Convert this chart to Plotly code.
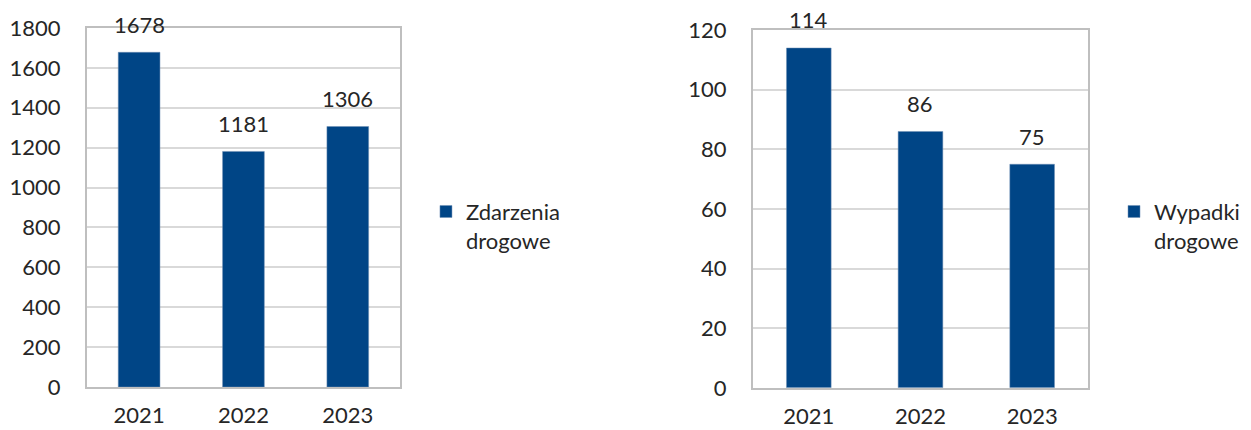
import plotly.graph_objects as go

years = ["2021", "2022", "2023"]
zdarzenia = [1678, 1181, 1306]
wypadki = [114, 86, 75]

bar_color = "#004586"
grid_color = "#D9D9D9"
frame_color = "#BFBFBF"
txt_color = "#262626"
font_family = "Lato, 'Noto Sans', sans-serif"

fig = go.Figure()

fig.add_trace(go.Bar(x=years, y=zdarzenia, name="Zdarzenia<br>drogowe",
                     marker_color=bar_color, marker_line_color="#6F8FB5", marker_line_width=0.5,
                     xaxis="x", yaxis="y", legend="legend", showlegend=True))
fig.add_trace(go.Bar(x=years, y=wypadki, name="Wypadki<br>drogowe",
                     marker_color=bar_color, marker_line_color="#6F8FB5", marker_line_width=0.5,
                     xaxis="x2", yaxis="y2", legend="legend2", showlegend=True))

# value labels above bars (category index, since "2021" would be read as a number)
for ys, xr, yr in [(zdarzenia, "x", "y"), (wypadki, "x2", "y2")]:
    for i, y in enumerate(ys):
        fig.add_annotation(x=i, y=y, xref=xr, yref=yr, text=str(y), showarrow=False,
                           yanchor="middle", yshift=28,
                           font=dict(size=22, color=txt_color, family=font_family))

axis_common = dict(showline=True, linecolor=frame_color, linewidth=2, mirror=True, automargin=False,
                   tickfont=dict(size=22, color=txt_color, family=font_family))

fig.update_layout(
    width=1251, height=430,
    margin=dict(l=0, r=0, t=0, b=0),
    paper_bgcolor="white", plot_bgcolor="white",
    bargap=0.6, showlegend=True,
    font=dict(family=font_family, color=txt_color),
    xaxis=dict(domain=[0.0695, 0.3197], anchor="y", type="category", range=[-0.5, 2.5],
               ticks="outside", ticklen=8, tickcolor="rgba(0,0,0,0)", **axis_common),
    yaxis=dict(domain=[0.100, 0.935], anchor="x", range=[0, 1800], dtick=200,
               showgrid=True, gridcolor=grid_color, gridwidth=1.5, zeroline=False,
               ticks="outside", ticklen=20, tickcolor="rgba(0,0,0,0)", **axis_common),
    xaxis2=dict(domain=[0.6019, 0.8697], anchor="y2", type="category", range=[-0.5, 2.5],
                ticks="outside", ticklen=8, tickcolor="rgba(0,0,0,0)", **axis_common),
    yaxis2=dict(domain=[0.098, 0.930], anchor="x2", range=[0, 120], dtick=20,
                showgrid=True, gridcolor=grid_color, gridwidth=1.5, zeroline=False,
                ticks="outside", ticklen=20, tickcolor="rgba(0,0,0,0)", **axis_common),
    legend=dict(x=0.3405, y=0.474, xanchor="left", yanchor="middle", valign="top",
                font=dict(size=22, color=txt_color, family=font_family),
                bgcolor="rgba(0,0,0,0)"),
    legend2=dict(x=0.8905, y=0.474, xanchor="left", yanchor="middle", valign="top",
                 font=dict(size=22, color=txt_color, family=font_family),
                 bgcolor="rgba(0,0,0,0)"),
)

fig.write_html("out.html", config={"displayModeBar": False},
               post_script="document.body.style.margin='0px';")
